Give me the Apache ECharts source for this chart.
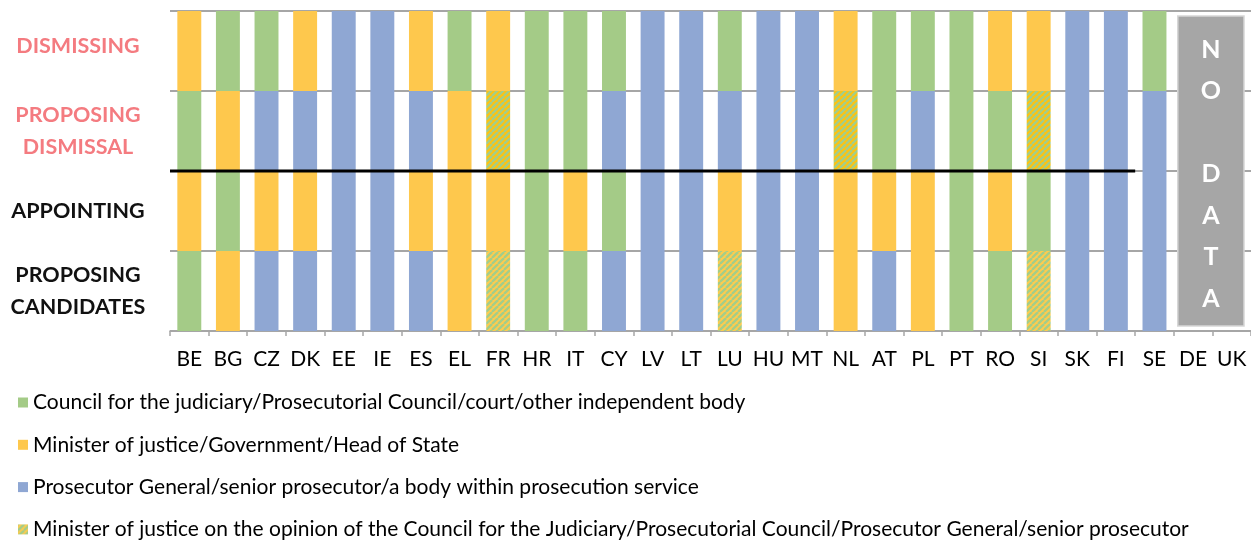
<!DOCTYPE html>
<html>
<head>
<meta charset="utf-8">
<script src="https://cdn.jsdelivr.net/npm/echarts@6/dist/echarts.min.js"></script>
<style>
  html, body { margin: 0; padding: 0; background: #ffffff; }
  #chart { width: 1251px; height: 540px; }
</style>
</head>
<body>
<div id="chart"></div>
<script>
// Member states along the horizontal axis
const countries = ['BE','BG','CZ','DK','EE','IE','ES','EL','FR','HR','IT','CY','LV','LT','LU','HU','MT','NL','AT','PL','PT','RO','SI','SK','FI','SE','DE','UK'];

// Stages of a prosecutor's career, bottom to top
const stageLabels = ['PROPOSING\nCANDIDATES', 'APPOINTING', 'PROPOSING\nDISMISSAL', 'DISMISSING'];

// Authority responsible at each stage: G = council/court, Y = minister/government,
// B = prosecution service, H = minister on the opinion of a council/prosecutor, '' = no data
const proposingCandidates = ['G','Y','B','B','B','B','B','Y','H','G','G','B','B','B','H','B','B','Y','B','Y','G','G','H','B','B','B','',''];
const appointing          = ['Y','G','Y','Y','B','B','Y','Y','Y','G','Y','G','B','B','Y','B','B','Y','Y','Y','G','Y','G','B','B','B','',''];
const proposingDismissal  = ['G','Y','B','B','B','B','B','Y','H','G','G','B','B','B','B','B','B','H','G','B','G','G','H','B','B','B','',''];
const dismissing          = ['Y','G','G','Y','B','B','Y','G','Y','G','G','G','B','B','G','B','B','Y','G','G','G','Y','Y','B','B','G','',''];

// Legend entries
const authorityKeys = ['G', 'Y', 'B', 'H'];
const authorityNames = {
  G: 'Council for the judiciary/Prosecutorial Council/court/other independent body',
  Y: 'Minister of justice/Government/Head of State',
  B: 'Prosecutor General/senior prosecutor/a body within prosecution service',
  H: 'Minister of justice on the opinion of the Council for the Judiciary/Prosecutorial Council/Prosecutor General/senior prosecutor'
};

// Countries without data, and where the separator between appointment and dismissal ends
const noDataCountries = ['DE', 'UK'];
const separatorEnd = countries.indexOf('SE');

const stages = [proposingCandidates, appointing, proposingDismissal, dismissing];

// Diagonal yellow/green hatch used for the mixed-authority segments
function hatch(base, stripe) {
  const s = 6;
  const c = document.createElement('canvas');
  c.width = s; c.height = s;
  const ctx = c.getContext('2d');
  ctx.fillStyle = base;
  ctx.fillRect(0, 0, s, s);
  ctx.strokeStyle = stripe;
  ctx.lineWidth = 2.3;
  for (let o = -s; o <= s; o += s) {
    ctx.beginPath();
    ctx.moveTo(o, s);
    ctx.lineTo(o + s, 0);
    ctx.stroke();
  }
  return { image: c, repeat: 'repeat' };
}

const solidColors = { G: '#A4CB87', Y: '#FEC84D', B: '#8FA7D3' };
const hatchLight = hatch('#FECB4E', '#A3CD8A');
const hatchDark = hatch('#FFC20E', '#A3CD8A');

function colorFor(key, stageIndex) {
  if (key === 'H') return stageIndex === 2 ? hatchDark : hatchLight;
  return solidColors[key];
}

const FONT = 'Lato, "Open Sans", sans-serif';

const series = [];
stages.forEach((stage, si) => {
  authorityKeys.forEach(key => {
    series.push({
      name: authorityNames[key],
      type: 'bar',
      stack: 'career',
      barWidth: '62%',
      xAxisIndex: 0,
      yAxisIndex: 0,
      itemStyle: { color: colorFor(key, si) },
      emphasis: { disabled: true },
      data: stage.map(v => (v === key ? 1 : '-'))
    });
  });
});

// Thick separator between appointment and dismissal stages
series.push({
  type: 'line',
  xAxisIndex: 1,
  yAxisIndex: 0,
  data: [[0, 2], [separatorEnd, 2]],
  symbol: 'none',
  silent: true,
  z: 5,
  lineStyle: { color: '#000000', width: 3 }
});

// Grey "NO DATA" panel over the countries without data
const ndStart = countries.indexOf(noDataCountries[0]);
const ndEnd = countries.indexOf(noDataCountries[noDataCountries.length - 1]) + 1;
series.push({
  type: 'custom',
  xAxisIndex: 1,
  yAxisIndex: 0,
  silent: true,
  z: 4,
  data: [[ndStart, ndEnd, 0, stageLabels.length]],
  renderItem: function (params, api) {
    const tl = api.coord([api.value(0), api.value(3)]);
    const br = api.coord([api.value(1), api.value(2)]);
    const x = tl[0] + 4, y = tl[1] + 5;
    const w = br[0] - tl[0] - 11, h = br[1] - tl[1] - 10;
    return {
      type: 'group',
      children: [
        {
          type: 'rect',
          shape: { x: x, y: y, width: w, height: h },
          style: { fill: '#A6A6A6', stroke: '#D6D6D6', lineWidth: 1.5 }
        },
        {
          type: 'text',
          x: x + w / 2,
          y: y + h / 2 + 3,
          style: {
            text: 'N\nO\n\nD\nA\nT\nA',
            fill: '#ffffff',
            font: 'bold 25px ' + FONT,
            lineHeight: 41.5,
            align: 'center',
            verticalAlign: 'middle'
          }
        }
      ]
    };
  }
});

const chart = echarts.init(document.getElementById('chart'), null, { renderer: 'canvas' });
chart.setOption({
  animation: false,
  backgroundColor: '#ffffff',
  textStyle: { fontFamily: FONT },
  grid: { left: 170, right: 0, top: 11, bottom: 209, containLabel: false },
  legend: {
    data: authorityKeys.map(k => authorityNames[k]),
    orient: 'vertical',
    left: 18,
    top: 392,
    height: 200,
    padding: 0,
    itemWidth: 10,
    itemHeight: 10,
    itemGap: 21.3,
    icon: 'rect',
    selectedMode: false,
    textStyle: { fontSize: 21, color: '#000000', fontFamily: FONT }
  },
  xAxis: [
    {
      type: 'category',
      data: countries,
      axisLine: { lineStyle: { color: '#A6A6A6', width: 1.5 } },
      axisTick: { show: true, interval: 0, length: 5, lineStyle: { color: '#A6A6A6', width: 1.5 } },
      axisLabel: { interval: 0, fontSize: 21, color: '#000000', margin: 18, fontFamily: FONT }
    },
    {
      type: 'value',
      min: 0,
      max: countries.length,
      show: false
    }
  ],
  yAxis: [
    {
      type: 'value',
      min: 0,
      max: stageLabels.length,
      interval: 1,
      axisLine: { show: false },
      axisTick: { show: false },
      axisLabel: { show: false },
      splitLine: { lineStyle: { color: '#A6A6A6', width: 2 } }
    },
    {
      type: 'category',
      data: stageLabels,
      position: 'left',
      boundaryGap: true,
      axisLine: { show: false },
      axisTick: { show: false },
      splitLine: { show: false },
      axisLabel: {
        margin: 92,
        align: 'center',
        fontSize: 21.5,
        fontWeight: 'bold',
        lineHeight: 32,
        fontFamily: FONT,
        color: function (value, index) { return index >= 2 ? '#F47B80' : '#111111'; },
        formatter: function (value, index) {
          return index === 3 ? '{top|' + value + '}' : value;
        },
        rich: {
          top: {
            fontSize: 21.5,
            fontWeight: 'bold',
            fontFamily: FONT,
            color: '#F47B80',
            padding: [0, 0, 10, 0]
          }
        }
      }
    }
  ],
  series: series
});
</script>
</body>
</html>
